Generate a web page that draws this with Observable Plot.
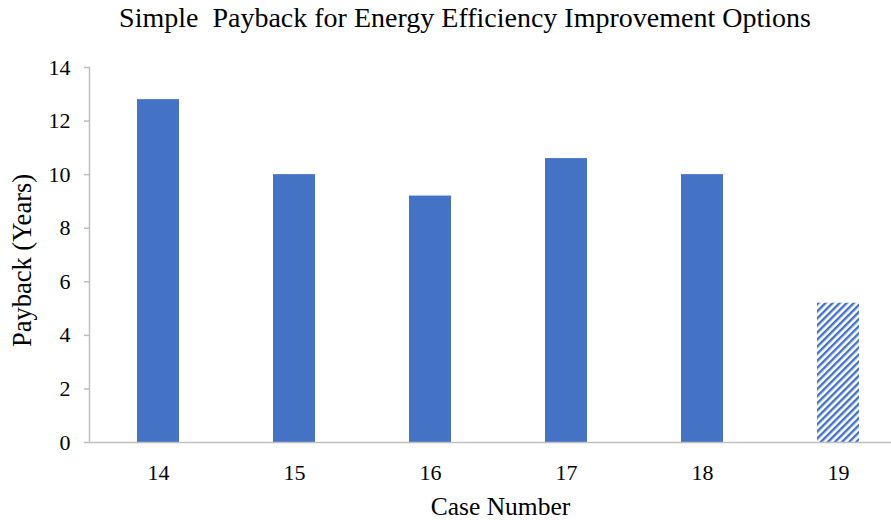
<!DOCTYPE html>
<html>
<head>
<meta charset="utf-8">
<script src="https://cdn.jsdelivr.net/npm/d3@7"></script>
<script src="https://cdn.jsdelivr.net/npm/@observablehq/plot@0.6"></script>
<style>
  html, body { margin: 0; padding: 0; background: #fff; }
  #wrap { width: 891px; height: 520px; overflow: hidden; font-family: "Liberation Serif", "Times New Roman", serif; }
  #title { height: 45px; box-sizing: border-box; padding-top: 1px; padding-left: 39px; line-height: 34px; font-size: 28px; text-align: center; color: #000; white-space: pre; }
  svg { display: block; }
</style>
</head>
<body>
<div id="wrap">
  <div id="title">Simple  Payback for Energy Efficiency Improvement Options</div>
  <div id="chart"></div>
</div>
<script>
const cases = ["14", "15", "16", "17", "18", "19"];
const payback = [12.8, 10.0, 9.2, 10.6, 10.0, 5.2];
const hatchedCases = ["19"];
const yTicks = [0, 2, 4, 6, 8, 10, 12, 14];
const titleText = "Simple  Payback for Energy Efficiency Improvement Options";
const xLabel = "Case Number";
const yLabel = "Payback (Years)";

const data = cases.map((c, i) => ({case: c, value: payback[i]}));
const axisGray = "#bfbfbf";
const font = "Liberation Serif, Times New Roman, serif";

const chart = Plot.plot({
  width: 891,
  height: 475,
  marginLeft: 89,
  marginRight: 0,
  marginTop: 22,
  marginBottom: 78,
  style: {fontFamily: font, background: "#fff", color: "#000"},
  x: {domain: cases, range: [89.5, 905.5], paddingInner: 0.693, paddingOuter: 0.3465},
  y: {domain: [0, 14]},
  marks: [
    Plot.frame({anchor: "left", stroke: axisGray, strokeWidth: 1.5}),
    Plot.barY(data.filter(d => !hatchedCases.includes(d.case)), {x: "case", y: "value", fill: "#4472C4"}),
    Plot.barY(data.filter(d => hatchedCases.includes(d.case)), {x: "case", y: "value", fill: "url(#hatch)"}),
    Plot.ruleY([0], {stroke: axisGray, strokeWidth: 1.5}),
    Plot.axisY({ticks: yTicks, tickSize: 5, tickPadding: 14, stroke: axisGray, strokeWidth: 1.5, fontSize: 22, fontFamily: font, fill: "#000", label: null}),
    Plot.axisX({tickSize: 0, tickPadding: 22, fontSize: 22, fontFamily: font, fill: "#000", label: null}),
    Plot.text([xLabel], {text: d => d, frameAnchor: "bottom", dy: 64, dx: 10, lineAnchor: "middle", fontSize: 25.5, fontFamily: font, fill: "#000"}),
    Plot.text([yLabel], {text: d => d, frameAnchor: "left", dx: -67, dy: 5.5, rotate: -90, textAnchor: "middle", lineAnchor: "middle", fontSize: 26.5, fontFamily: font, fill: "#000"})
  ]
});

const svg = d3.select(chart);
const defs = svg.insert("defs", ":first-child");
const pat = defs.append("pattern")
  .attr("id", "hatch")
  .attr("patternUnits", "userSpaceOnUse")
  .attr("width", 5)
  .attr("height", 5)
  .attr("patternTransform", "rotate(45)");
pat.append("rect").attr("width", 5).attr("height", 5).attr("fill", "#fff");
pat.append("rect").attr("width", 2.4).attr("height", 5).attr("fill", "#4472C4");

document.getElementById("chart").appendChild(chart);
</script>
</body>
</html>
